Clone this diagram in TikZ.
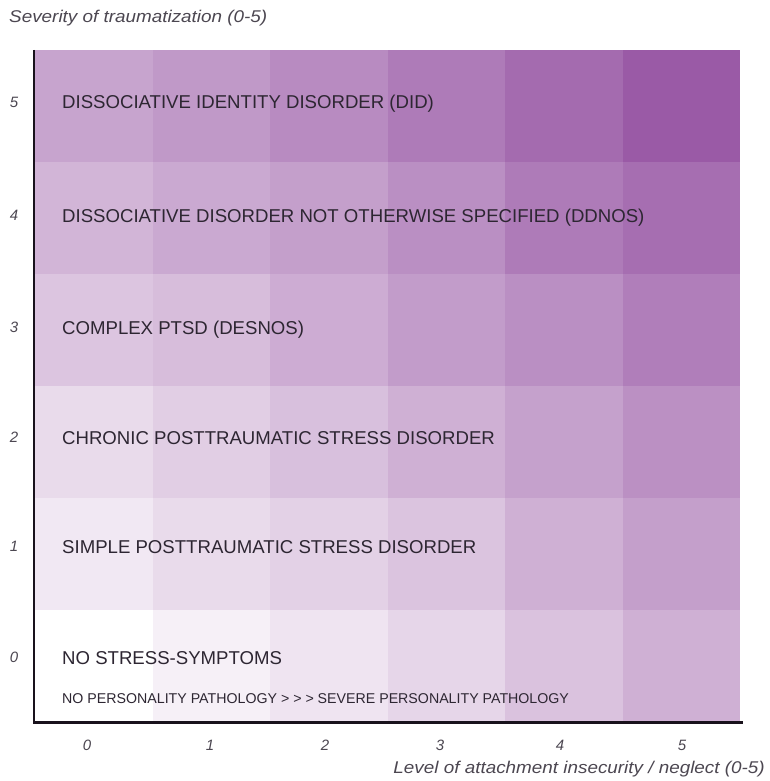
\documentclass[tikz,border=0pt]{standalone}
\usepackage{fontspec}
\setmainfont{Liberation Sans}
\definecolor{purp}{RGB}{154,90,166}
\definecolor{txt}{RGB}{45,38,50}
\definecolor{axis}{RGB}{25,18,28}
\tikzset{
  lbl/.style={anchor=west, inner sep=0pt, text=txt, font=\fontsize{18.6}{18.6}\selectfont},
  small/.style={anchor=west, inner sep=0pt, text=txt, font=\fontsize{14.2}{14.2}\selectfont},
  num/.style={inner sep=0pt, text=txt!85!white, font=\fontsize{15}{15}\selectfont\itshape},
  ttl/.style={inner sep=0pt, text=txt!85!white, xscale=1.11, font=\fontsize{17}{17}\selectfont\itshape},
  axisline/.style={draw=axis, line width=3pt}
}
\begin{document}
\begin{tikzpicture}[x=1pt,y=-1pt]
\useasboundingbox (0,0) rectangle (770,781);
\fill[white] (0,0) rectangle (770,781);
% cells: rows top (5) to bottom (0), columns 0..5
\foreach \r/\vals in {0/{55,62,70,80,90,100},1/{45,52,58,68,80,88},2/{35,40,50,60,68,78},3/{22,30,38,48,57,67},4/{14,22,28,36,48,58},5/{0,9,16,25,37,48}}{
  \foreach \v [count=\c from 0] in \vals {
    \fill[purp!\v!white] ({35+117.5*\c},{50+112*\r}) rectangle ({35+117.5*(\c+1)},{50+112*(\r+1)});
  }
}
% axes
\coordinate (top) at (34,50);
\coordinate (origin) at (34,722);
\coordinate (right) at (741,722);
\draw[axisline, line width=2.5pt] (top) -- (origin);
\draw[axisline, line cap=rect] (origin) -- (right);
% row labels
\node[lbl] (l5) at (62,104) {DISSOCIATIVE IDENTITY DISORDER (DID)};
\node[lbl] (l4) at (62,218) {DISSOCIATIVE DISORDER NOT OTHERWISE SPECIFIED (DDNOS)};
\node[lbl] (l3) at (62,330) {COMPLEX PTSD (DESNOS)};
\node[lbl] (l2) at (62,438) {CHRONIC POSTTRAUMATIC STRESS DISORDER};
\node[lbl] (l1) at (62,547) {SIMPLE POSTTRAUMATIC STRESS DISORDER};
\node[lbl] (l0) at (62,658) {NO STRESS-SYMPTOMS};
\node[small] (pp) at (62,699) {NO PERSONALITY PATHOLOGY > > > SEVERE PERSONALITY PATHOLOGY};
% y numbers
\foreach \n/\y in {5/102,4/215,3/327,2/437,1/546,0/657}{
  \node[num] (y\n) at (14,\y) {\n};
}
% x numbers
\foreach \n/\x in {0/87,1/210,2/325,3/440,4/560,5/682}{
  \node[num] (x\n) at (\x,745) {\n};
}
% titles
\node[ttl, anchor=west] (ytitle) at (9,18) {Severity of traumatization (0-5)};
\node[ttl, anchor=east] (xtitle) at (765,769) {Level of attachment insecurity / neglect (0-5)};
\end{tikzpicture}
\end{document}
